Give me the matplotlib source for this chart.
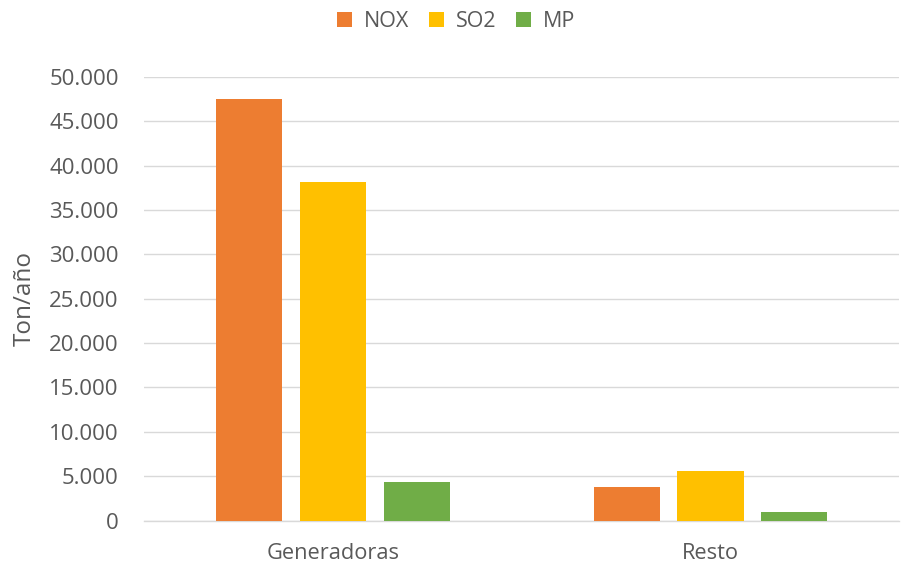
import matplotlib
matplotlib.use("Agg")
import matplotlib.pyplot as plt
import numpy as np
from matplotlib.ticker import FuncFormatter

categories = ["Generadoras", "Resto"]
series = ["NOX", "SO2", "MP"]
nox = [47500, 3760]
so2 = [38100, 5560]
mp = [4360, 950]
colors = ["#ED7D31", "#FFC000", "#70AD47"]
ylabel = "Ton/año"

plt.rcParams['font.family'] = ['Open Sans', 'DejaVu Sans']
fig = plt.figure(figsize=(9.18, 5.64), dpi=100)
ax = fig.add_axes([0.1567, 0.0768, 0.8230, 0.7872])

x = np.arange(len(categories))
w = 0.175
step = 0.222
for i, (vals, name) in enumerate(zip([nox, so2, mp], series)):
    ax.bar(x + (i - 1) * step, vals, width=w, color=colors[i], label=name, zorder=3)

ax.set_xlim(-0.5, 1.5)
ax.set_ylim(0, 50000)
ax.set_yticks(np.arange(0, 50001, 5000))
ax.yaxis.set_major_formatter(FuncFormatter(lambda v, p: f"{int(v):,}".replace(",", ".")))
ax.set_xticks(x)
ax.set_xticklabels(categories, fontsize=15.7)
ax.grid(axis='y', color='#D9D9D9', linewidth=1, zorder=0)
for s in ['top', 'right', 'left']:
    ax.spines[s].set_visible(False)
ax.spines['bottom'].set_color('#D9D9D9')
ax.spines['bottom'].set_linewidth(1)
ax.tick_params(axis='y', length=0, labelsize=16, colors='#595959', pad=18)
ax.tick_params(axis='x', length=0, colors='#595959', pad=16)
ax.set_ylabel(ylabel, fontsize=17.5, color='#595959', ha='center', va='center')
ax.yaxis.set_label_coords((25 - 143.8) / 755.6, 0.5)

leg = fig.legend(loc='center', bbox_to_anchor=(0.497, 0.962), ncol=3, frameon=False,
                 fontsize=15.5, handlelength=0.68, handleheight=0.68, handletextpad=0.58,
                 columnspacing=0.9)
for t in leg.get_texts():
    t.set_color('#595959')

fig.savefig("out.png", dpi=100)
